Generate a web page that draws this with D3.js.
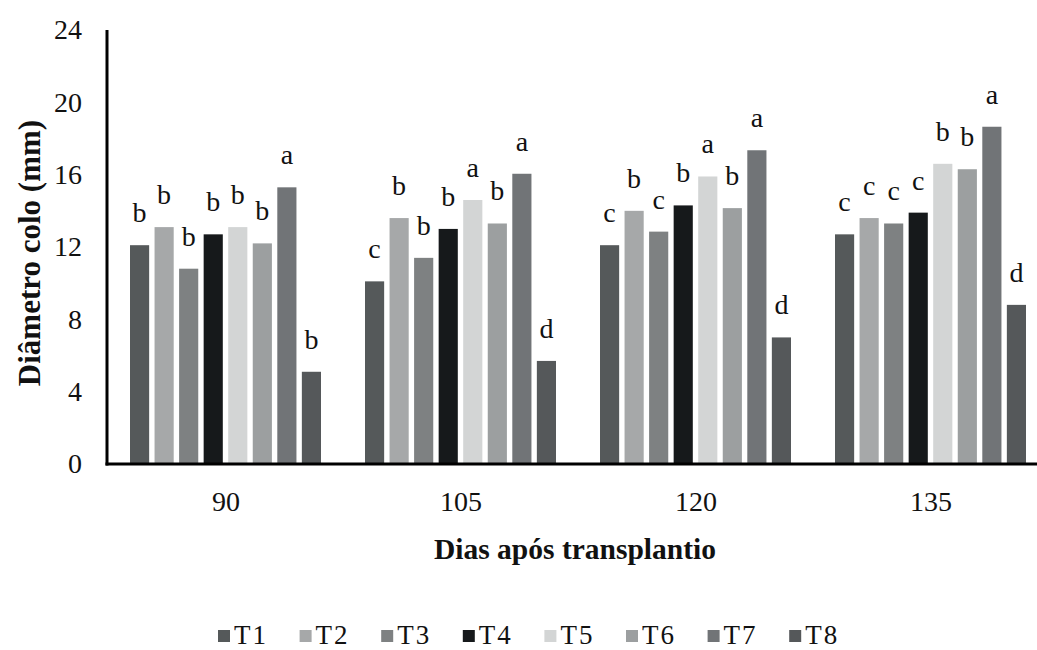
<!DOCTYPE html>
<html>
<head>
<meta charset="utf-8">
<script src="https://cdn.jsdelivr.net/npm/d3@7"></script>
<style>
  body { margin: 0; background: #fff; }
  svg { display: block; font-family: "Liberation Serif", "Times New Roman", serif; }
</style>
</head>
<body>
<svg id="chart" width="1037" height="650"></svg>
<script>
// data
const days = ["90", "105", "120", "135"];
const treatments = ["T1", "T2", "T3", "T4", "T5", "T6", "T7", "T8"];
const colors = ["#55595a", "#a6a8a9", "#7e8182", "#16191b", "#d3d5d5", "#9c9fa0", "#717477", "#55585a"];

// values per treatment, one per day
const T1 = [12.1, 10.1, 12.1, 12.7];
const T2 = [13.1, 13.6, 14.0, 13.6];
const T3 = [10.8, 11.4, 12.85, 13.3];
const T4 = [12.7, 13.0, 14.3, 13.9];
const T5 = [13.1, 14.6, 15.9, 16.6];
const T6 = [12.2, 13.3, 14.15, 16.3];
const T7 = [15.3, 16.05, 17.35, 18.65];
const T8 = [5.1, 5.7, 7.0, 8.8];
const values = [T1, T2, T3, T4, T5, T6, T7, T8];

// Tukey letters per day
const letters = [
  ["b", "b", "b", "b", "b", "b", "a", "b"],
  ["c", "b", "b", "b", "a", "b", "a", "d"],
  ["c", "b", "c", "b", "a", "b", "a", "d"],
  ["c", "c", "c", "c", "b", "b", "a", "d"]
];
const yTicks = [0, 4, 8, 12, 16, 20, 24];

const svg = d3.select("#chart");
const margin = { top: 30, left: 107, bottom: 186 };
const baseY = 464;

const x0 = d3.scaleBand().domain(days).range([108.5, 1048.5]);
const x1 = d3.scaleBand().domain(treatments).range([21.5, 212.5]).paddingInner(0.22);
const y = d3.scaleLinear().domain([0, 24]).range([baseY, 30]);

const rows = [];
days.forEach((d, di) => {
  treatments.forEach((t, ti) => {
    rows.push({ day: d, t, ti, v: values[ti][di], letter: letters[di][ti] });
  });
});

// bars
svg.append("g")
  .selectAll("rect")
  .data(rows)
  .join("rect")
  .attr("x", (d) => x0(d.day) + x1(d.t))
  .attr("y", (d) => y(d.v))
  .attr("width", x1.bandwidth())
  .attr("height", (d) => y(0) - y(d.v))
  .attr("fill", (d) => colors[d.ti]);

// letters above bars
svg.append("g")
  .selectAll("text")
  .data(rows)
  .join("text")
  .attr("x", (d) => x0(d.day) + x1(d.t) + x1.bandwidth() / 2)
  .attr("y", (d) => y(d.v) - 23)
  .attr("text-anchor", "middle")
  .attr("font-size", 28)
  .attr("fill", "#111")
  .text((d) => d.letter);

// y axis
const yAxis = d3.axisLeft(y).tickValues(yTicks).tickSize(0).tickPadding(25);
const yAxisG = svg.append("g")
  .attr("transform", `translate(${margin.left},0)`)
  .call(yAxis);
yAxisG.select(".domain").remove();
yAxisG.selectAll("text")
  .attr("font-size", 28)
  .attr("font-family", "Liberation Serif")
  .attr("fill", "#111");

// x axis
const xAxis = d3.axisBottom(x0).tickSize(0).tickPadding(27);
const xAxisG = svg.append("g")
  .attr("transform", `translate(0,${baseY})`)
  .call(xAxis);
xAxisG.select(".domain").remove();
xAxisG.selectAll("text")
  .attr("font-size", 28)
  .attr("font-family", "Liberation Serif")
  .attr("fill", "#111");

// axis lines
svg.append("line")
  .attr("x1", margin.left).attr("x2", margin.left)
  .attr("y1", 30).attr("y2", baseY + 1.5)
  .attr("stroke", "#000").attr("stroke-width", 3);
svg.append("line")
  .attr("x1", margin.left - 1.5).attr("x2", 1037)
  .attr("y1", baseY).attr("y2", baseY)
  .attr("stroke", "#000").attr("stroke-width", 3);

// titles
svg.append("text")
  .attr("x", 575)
  .attr("y", 559)
  .attr("text-anchor", "middle")
  .attr("font-size", 29.5)
  .attr("font-weight", "bold")
  .attr("fill", "#111")
  .text("Dias após transplantio");

svg.append("text")
  .attr("transform", "translate(40,253) rotate(-90)")
  .attr("text-anchor", "middle")
  .attr("font-size", 31)
  .attr("font-weight", "bold")
  .attr("fill", "#111")
  .text("Diâmetro colo (mm)");

// legend
const legend = svg.append("g")
  .selectAll("g")
  .data(treatments)
  .join("g")
  .attr("transform", (d, i) => `translate(${218 + i * 81.6},0)`);
legend.append("rect")
  .attr("x", 0).attr("y", 630)
  .attr("width", 12).attr("height", 12)
  .attr("fill", (d, i) => colors[i]);
legend.append("text")
  .attr("x", 16).attr("y", 644)
  .attr("font-size", 27)
  .attr("letter-spacing", 2)
  .attr("fill", "#111")
  .text((d) => d);
</script>
</body>
</html>
